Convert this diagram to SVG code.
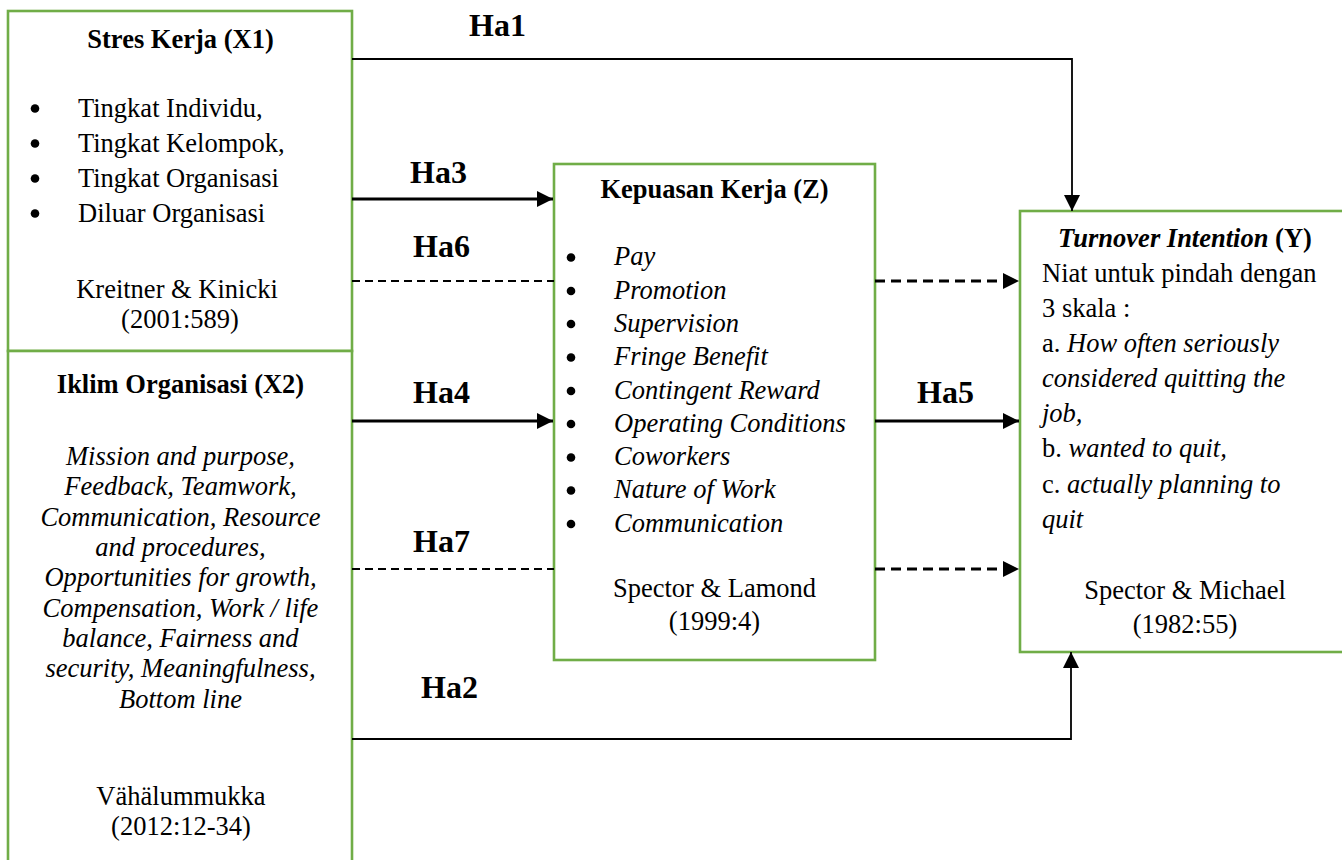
<svg xmlns="http://www.w3.org/2000/svg" width="1342" height="860" viewBox="0 0 1342 860" font-family="'Liberation Serif', 'DejaVu Serif', serif">
<defs>
<style>
.box{fill:#ffffff;stroke:#70AD47;stroke-width:2.6}
text{font-family:'Liberation Serif','DejaVu Serif',serif}
.t{font-size:26.5px;fill:#000}
.b{font-weight:bold}
.i{font-style:italic}
.c{text-anchor:middle}
.h{font-size:32px;font-weight:bold;fill:#000}
.dot{fill:#000}
.ln{fill:none;stroke:#000;stroke-width:1.8}
.thick{fill:none;stroke:#000;stroke-width:2.8}
.dthin{fill:none;stroke:#000;stroke-width:1.8;stroke-dasharray:8 5}
.dthick{fill:none;stroke:#000;stroke-width:3;stroke-dasharray:10 6}
</style>
<marker id="arr" markerUnits="userSpaceOnUse" markerWidth="16" markerHeight="16" viewBox="0 0 15 15" refX="15" refY="7.5" orient="auto">
<path d="M0,0 L15,7.5 L0,15 z" fill="#000"/>
</marker>
</defs>
<rect width="1342" height="860" fill="#ffffff"/>

<g id="node-x1">
<rect class="box" x="8" y="11" width="344" height="340"/>
<text class="t b c" x="180.5" y="48">Stres Kerja (X1)</text>
<circle class="dot" cx="35" cy="108.5" r="4.3"/>
<text class="t" x="78" y="117">Tingkat Individu,</text>
<circle class="dot" cx="35" cy="143.5" r="4.3"/>
<text class="t" x="78" y="152">Tingkat Kelompok,</text>
<circle class="dot" cx="35" cy="178.5" r="4.3"/>
<text class="t" x="78" y="187">Tingkat Organisasi</text>
<circle class="dot" cx="35" cy="213.5" r="4.3"/>
<text class="t" x="78" y="222">Diluar Organisasi</text>
<text class="t c" x="177" y="298">Kreitner &amp; Kinicki</text>
<text class="t c" x="180" y="328">(2001:589)</text>
</g>

<g id="node-x2">
<rect class="box" x="8" y="351" width="344" height="520"/>
<text class="t b c" x="180.5" y="393">Iklim Organisasi (X2)</text>
<text class="t i c" x="180.5" y="465">Mission and purpose,</text>
<text class="t i c" x="180.5" y="495">Feedback, Teamwork,</text>
<text class="t i c" x="180.5" y="526">Communication, Resource</text>
<text class="t i c" x="180.5" y="556">and procedures,</text>
<text class="t i c" x="180.5" y="586">Opportunities for growth,</text>
<text class="t i c" x="180.5" y="617">Compensation, Work / life</text>
<text class="t i c" x="180.5" y="647">balance, Fairness and</text>
<text class="t i c" x="180.5" y="677">security, Meaningfulness,</text>
<text class="t i c" x="180.5" y="708">Bottom line</text>
<text class="t c" x="181" y="805">Vähälummukka</text>
<text class="t c" x="181" y="835">(2012:12-34)</text>
</g>

<g id="node-z">
<rect class="box" x="554" y="164" width="321" height="496"/>
<text class="t b c" x="714.5" y="198">Kepuasan Kerja (Z)</text>
<circle class="dot" cx="571" cy="257.5" r="4.3"/>
<text class="t i" x="614" y="265">Pay</text>
<circle class="dot" cx="571" cy="291" r="4.3"/>
<text class="t i" x="614" y="299">Promotion</text>
<circle class="dot" cx="571" cy="324" r="4.3"/>
<text class="t i" x="614" y="332">Supervision</text>
<circle class="dot" cx="571" cy="357.5" r="4.3"/>
<text class="t i" x="614" y="365">Fringe Benefit</text>
<circle class="dot" cx="571" cy="391" r="4.3"/>
<text class="t i" x="614" y="399">Contingent Reward</text>
<circle class="dot" cx="571" cy="424" r="4.3"/>
<text class="t i" x="614" y="432">Operating Conditions</text>
<circle class="dot" cx="571" cy="457.5" r="4.3"/>
<text class="t i" x="614" y="465">Coworkers</text>
<circle class="dot" cx="571" cy="490.5" r="4.3"/>
<text class="t i" x="614" y="498">Nature of Work</text>
<circle class="dot" cx="571" cy="524" r="4.3"/>
<text class="t i" x="614" y="532">Communication</text>
<text class="t c" x="714.5" y="597">Spector &amp; Lamond</text>
<text class="t c" x="714.5" y="630">(1999:4)</text>
</g>

<g id="node-y">
<rect class="box" x="1020" y="211" width="340" height="441"/>
<text class="t b c" x="1185" y="247"><tspan class="i">Turnover Intention</tspan> (Y)</text>
<text class="t" x="1042" y="282">Niat untuk pindah dengan</text>
<text class="t" x="1042" y="317">3 skala :</text>
<text class="t" x="1042" y="352">a. <tspan class="i">How often seriously</tspan></text>
<text class="t i" x="1042" y="387">considered quitting the</text>
<text class="t i" x="1042" y="422">job,</text>
<text class="t" x="1042" y="457">b. <tspan class="i">wanted to quit,</tspan></text>
<text class="t" x="1042" y="493">c. <tspan class="i">actually planning to</tspan></text>
<text class="t i" x="1042" y="528">quit</text>
<text class="t c" x="1185" y="599">Spector &amp; Michael</text>
<text class="t c" x="1185" y="633">(1982:55)</text>
</g>

<g id="connectors">
<path class="ln" d="M352,59 H1072 V211" marker-end="url(#arr)"/>
<path class="thick" d="M352,199 H553" marker-end="url(#arr)"/>
<path class="dthin" d="M352,281 H554"/>
<path class="dthick" d="M875,281 H1019" marker-end="url(#arr)"/>
<path class="thick" d="M352,421 H553" marker-end="url(#arr)"/>
<path class="thick" d="M875,421 H1019" marker-end="url(#arr)"/>
<path class="dthin" d="M352,569 H554"/>
<path class="dthick" d="M875,569 H1019" marker-end="url(#arr)"/>
<path class="ln" d="M352,739 H1071 V652" marker-end="url(#arr)"/>
<text class="h" x="469" y="36">Ha1</text>
<text class="h" x="410" y="183">Ha3</text>
<text class="h" x="413" y="257">Ha6</text>
<text class="h" x="413" y="403">Ha4</text>
<text class="h" x="917" y="403">Ha5</text>
<text class="h" x="413" y="552">Ha7</text>
<text class="h" x="421" y="698">Ha2</text>
</g>
</svg>
